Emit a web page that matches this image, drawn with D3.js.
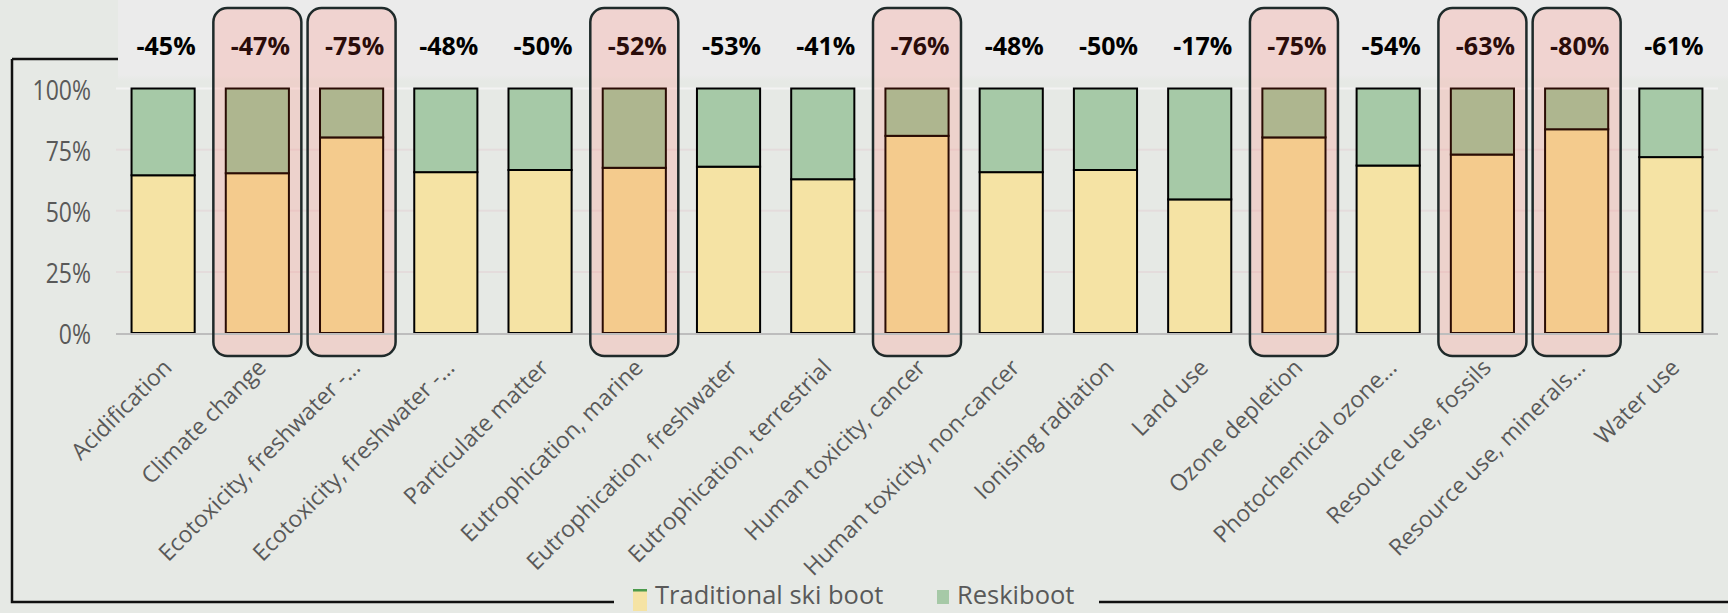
<!DOCTYPE html>
<html>
<head>
<meta charset="utf-8">
<script src="https://cdn.jsdelivr.net/npm/d3@7"></script>
<style>
  html, body { margin: 0; padding: 0; background: #e6e9e5; }
  svg { display: block; }
  text { font-family: "Open Sans", "Noto Sans", sans-serif; }
</style>
</head>
<body>
<svg id="chart" width="1728" height="613"></svg>
<script>
// Impact categories (EF 3.0), both boots normalised to the traditional boot
const categories = [
  "Acidification", "Climate change", "Ecotoxicity, freshwater -…", "Ecotoxicity, freshwater -…",
  "Particulate matter", "Eutrophication, marine", "Eutrophication, freshwater",
  "Eutrophication, terrestrial", "Human toxicity, cancer", "Human toxicity, non-cancer",
  "Ionising radiation", "Land use", "Ozone depletion", "Photochemical ozone…",
  "Resource use, fossils", "Resource use, minerals…", "Water use"
];
const traditional = [100, 100, 100, 100, 100, 100, 100, 100, 100, 100, 100, 100, 100, 100, 100, 100, 100];
const reskiboot   = [55, 53, 25, 52, 50, 48, 47, 59, 24, 52, 50, 83, 25, 46, 37, 20, 39];
// categories singled out with a rounded frame
const highlighted = [1, 2, 5, 8, 12, 14, 15];
const yTicks = [0, 0.25, 0.5, 0.75, 1];
const seriesNames = ["Traditional ski boot", "Reskiboot"];

const W = 1728, H = 613;
const svg = d3.select("#chart");

const colors = {
  bg: "#e6e9e5", band: "#ebebeb",
  trad: "#f5e3a4", resk: "#a6c9a7",
  tradHi: "#f4cb8d", reskHi: "#aeb68f",
  text: "#595959"
};

const rows = categories.map((c, i) => {
  const total = traditional[i] + reskiboot[i];
  return {
    i, name: c,
    trad: traditional[i] / total,
    resk: reskiboot[i] / total,
    change: Math.round((reskiboot[i] - traditional[i]) / traditional[i] * 100),
    hi: highlighted.includes(i)
  };
});

const x = d3.scaleBand().domain(rows.map(d => d.i)).range([116, 1718])
  .paddingInner(0.33).paddingOuter(0.165);
const y = d3.scaleLinear().domain([0, 1]).range([333, 88.5]);

// background
svg.append("rect").attr("width", W).attr("height", H).attr("fill", colors.bg);

// outer frame (left, top stub, bottom split by the legend)
const frame = svg.append("g").attr("stroke", "#111").attr("stroke-width", 2.5).attr("fill", "none");
frame.append("path").attr("d", "M12,59 L12,602 L614,602");
frame.append("path").attr("d", "M1099,602 L1728,602");
frame.append("path").attr("d", "M12,59 L120,59");

// light strip behind the change labels
const defs = svg.append("defs");
const grad = defs.append("linearGradient").attr("id", "fade").attr("x1", 0).attr("x2", 0).attr("y1", 0).attr("y2", 1);
grad.append("stop").attr("offset", 0).attr("stop-color", colors.band).attr("stop-opacity", 1);
grad.append("stop").attr("offset", 1).attr("stop-color", colors.band).attr("stop-opacity", 0);
svg.append("rect").attr("x", 118).attr("y", 0).attr("width", W - 118).attr("height", 75).attr("fill", colors.band);
svg.append("rect").attr("x", 118).attr("y", 75).attr("width", W - 118).attr("height", 6).attr("fill", "url(#fade)");

// gridlines
svg.append("g").selectAll("line").data(yTicks.filter(t => t > 0)).join("line")
  .attr("x1", 116).attr("x2", 1718)
  .attr("y1", d => y(d)).attr("y2", d => y(d))
  .attr("stroke", d => d === 1 ? "#f3f3f3" : "#e4dcdc").attr("stroke-width", 2);

// highlight frames: tinted fill below the bars
const boxW = 88;
const boxes = rows.filter(d => d.hi);
svg.append("g").selectAll("rect").data(boxes).join("rect")
  .attr("x", d => x(d.i) + x.bandwidth() / 2 - boxW / 2)
  .attr("y", 8).attr("width", boxW).attr("height", 348).attr("rx", 14)
  .attr("fill", "rgba(255,150,140,0.28)");

// stacked bars
const bars = svg.append("g");
bars.selectAll("rect.trad").data(rows).join("rect").attr("class", "trad")
  .attr("x", d => x(d.i)).attr("width", x.bandwidth())
  .attr("y", d => y(d.trad)).attr("height", d => y(0) - y(d.trad))
  .attr("fill", d => d.hi ? colors.tradHi : colors.trad)
  .attr("stroke", d => d.hi ? "#2a0c04" : "#000").attr("stroke-width", 2);
bars.selectAll("rect.resk").data(rows).join("rect").attr("class", "resk")
  .attr("x", d => x(d.i)).attr("width", x.bandwidth())
  .attr("y", d => y(d.trad + d.resk)).attr("height", d => y(d.trad) - y(d.trad + d.resk))
  .attr("fill", d => d.hi ? colors.reskHi : colors.resk)
  .attr("stroke", d => d.hi ? "#2a0c04" : "#000").attr("stroke-width", 2);

// baseline
svg.append("line").attr("x1", 116).attr("x2", 1718).attr("y1", y(0) + 1).attr("y2", y(0) + 1)
  .attr("stroke", "#bdbdbd").attr("stroke-width", 2);

// highlight frame outlines
svg.append("g").selectAll("rect").data(boxes).join("rect")
  .attr("x", d => x(d.i) + x.bandwidth() / 2 - boxW / 2)
  .attr("y", 8).attr("width", boxW).attr("height", 348).attr("rx", 14)
  .attr("fill", "none").attr("stroke", "#1f2a2a").attr("stroke-width", 2.5);

// y axis labels
const yAxis = d3.axisLeft(y).tickValues(yTicks).tickFormat(d3.format(".0%")).tickSize(0).tickPadding(0);
const yg = svg.append("g").attr("transform", "translate(91,0)").call(yAxis);
yg.select(".domain").remove();
yg.selectAll("text")
  .attr("fill", colors.text).attr("font-size", 23)
  .attr("font-family", "'Open Sans', sans-serif")
  .attr("x", 0).attr("dy", null).attr("dominant-baseline", "central")
  .attr("transform", "scale(1,1.2)");

// change labels above the bars
svg.append("g").selectAll("text").data(rows).join("text")
  .attr("x", d => x(d.i) + x.bandwidth() / 2 + 3).attr("y", 55)
  .attr("text-anchor", "middle").attr("font-weight", 700).attr("font-size", 25)
  .attr("fill", d => d.hi ? "#2a0c0a" : "#000")
  .text(d => d.change + "%");

// category labels along the x axis
const xAxis = d3.axisBottom(x).tickFormat(i => categories[i]).tickSize(0).tickPadding(0);
const xg = svg.append("g").attr("transform", `translate(0,${y(0)})`).call(xAxis);
xg.select(".domain").remove();
xg.selectAll(".tick text")
  .attr("fill", colors.text).attr("font-size", 23)
  .attr("font-family", "'Open Sans', sans-serif")
  .attr("text-anchor", "end").attr("y", 0).attr("dy", null)
  .attr("transform", "translate(10,36) rotate(-45)");

// legend
const lg = svg.append("g");
lg.append("rect").attr("x", 633).attr("y", 590).attr("width", 14).attr("height", 21).attr("fill", colors.trad);
lg.append("rect").attr("x", 633).attr("y", 589).attr("width", 14).attr("height", 2.5).attr("fill", "#4b9a4b");
lg.append("text").attr("x", 655).attr("y", 604).attr("font-size", 25.5).attr("fill", colors.text).text(seriesNames[0]);
lg.append("rect").attr("x", 937).attr("y", 590).attr("width", 12).attr("height", 14).attr("fill", colors.resk);
lg.append("text").attr("x", 957).attr("y", 604).attr("font-size", 25.5).attr("fill", colors.text).text(seriesNames[1]);
</script>
</body>
</html>
